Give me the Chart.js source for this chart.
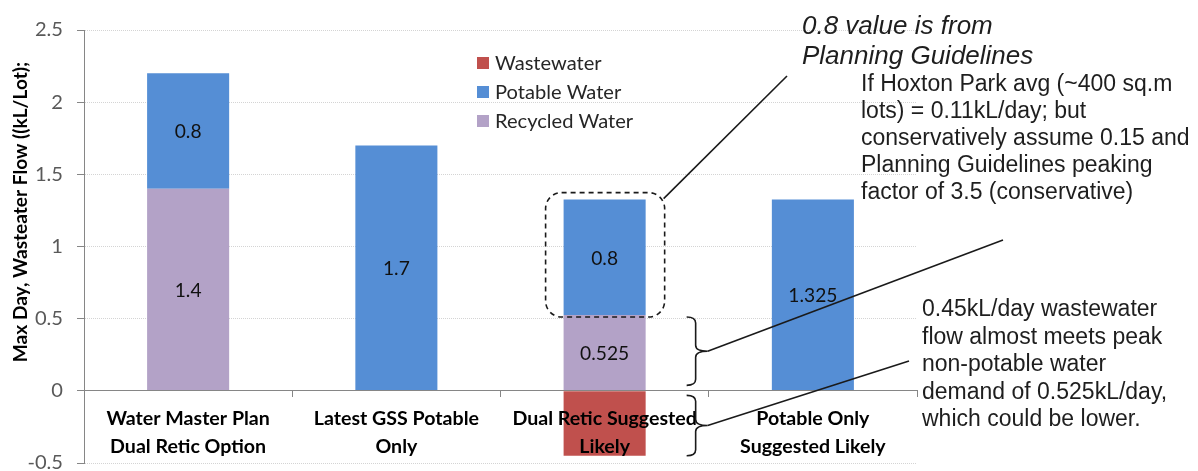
<!DOCTYPE html>
<html><head><meta charset="utf-8">
<script src="https://cdn.jsdelivr.net/npm/chart.js@4.4.1/dist/chart.umd.min.js"></script>
<style>html,body{margin:0;padding:0;background:#fff;overflow:hidden}#wrap{width:1198px;height:471px}</style>
</head><body><div id="wrap"><canvas id="c" width="1198" height="471"></canvas></div>
<script>
// ---- data ----
const categories = [["Water Master Plan","Dual Retic Option"],["Latest GSS Potable","Only"],["Dual Retic Suggested","Likely"],["Potable Only","Suggested Likely"]];
const recycledWater = [1.4, null, 0.525, null];
const potableWater  = [0.8, 1.7, 0.8, 1.325];
const wastewater    = [null, null, -0.45, null];
const yTicks      = [-0.5, 0, 0.5, 1, 1.5, 2, 2.5];
const yTickLabels = ["-0.5","0","0.5","1","1.5","2","2.5"];
const legendOrder = ["Wastewater","Potable Water","Recycled Water"];
const yTitle = "Max Day, Wasteater Flow ((kL/Lot);";
const note1 = ["0.8 value is from","Planning Guidelines"];
const note2 = ["If Hoxton Park avg (~400 sq.m","lots) = 0.11kL/day; but","conservatively assume 0.15 and","Planning Guidelines peaking","factor of 3.5 (conservative)"];
const note3 = ["0.45kL/day wastewater","flow almost meets peak","non-potable water","demand of 0.525kL/day,","which could be lower."];

// ---- font fitting (Calibri substitute) ----
const CAL = "Lato, 'Open Sans', sans-serif";
const ARIAL = "'Liberation Sans', Arial, sans-serif";
const mctx = document.createElement('canvas').getContext('2d');
function fit(text, weight, family, target){ mctx.font = weight + " 100px " + family; return Math.round(1000*target/mctx.measureText(text).width)/10; }
const catSize = fit("Dual Retic Suggested","bold",CAL,185);
const tickSize = fit("Recycled Water","normal",CAL,138);
const valSize = fit("0.525","normal",CAL,49);
const titleSize = fit(yTitle,"bold",CAL,300);

function brace(ctx, xL, xV, xT, top, bot){
  const mid = (top+bot)/2, r = 6;
  ctx.beginPath();
  ctx.moveTo(xL, top);
  ctx.quadraticCurveTo(xV, top, xV, top+r);
  ctx.lineTo(xV, mid-r);
  ctx.quadraticCurveTo(xV, mid, xT, mid);
  ctx.quadraticCurveTo(xV, mid, xV, mid+r);
  ctx.lineTo(xV, bot-r);
  ctx.quadraticCurveTo(xV, bot, xL, bot);
  ctx.stroke();
  return mid;
}
function textBlock(ctx, lines, x, y0, step, font){
  ctx.font = font; ctx.textAlign='left'; ctx.textBaseline='alphabetic'; ctx.fillStyle='#1e1e1e';
  lines.forEach((t,i)=>ctx.fillText(t, x, y0 + i*step));
}

const annot = {
  id:'annot',
  afterDatasetsDraw(chart){
    const ctx = chart.ctx;
    ctx.save();
    ctx.font = valSize + "px " + CAL; ctx.fillStyle='#111'; ctx.textAlign='center'; ctx.textBaseline='middle';
    [1,2].forEach(di=>{
      const meta = chart.getDatasetMeta(di);
      meta.data.forEach((el,i)=>{
        const v = chart.data.datasets[di].data[i];
        if (v===null || v===undefined) return;
        ctx.fillText(String(v), el.x, (el.y+el.base)/2 + 1);
      });
    });
    ctx.restore();
  },
  afterDraw(chart){
    const ctx = chart.ctx;
    ctx.save();
    // y title
    ctx.save();
    ctx.translate(21, 212); ctx.rotate(-Math.PI/2);
    ctx.font = "bold " + titleSize + "px " + CAL; ctx.fillStyle='#000'; ctx.textAlign='center'; ctx.textBaseline='middle';
    ctx.fillText(yTitle, 0, 0);
    ctx.restore();
    // legend
    const ds = chart.data.datasets;
    legendOrder.forEach((name,i)=>{
      const d = ds.find(x=>x.label===name);
      const cy = 63 + i*29;
      ctx.fillStyle = d.backgroundColor; ctx.fillRect(477, cy-6, 12, 12);
      ctx.fillStyle = '#262626'; ctx.font = tickSize + "px " + CAL; ctx.textAlign='left'; ctx.textBaseline='middle';
      ctx.fillText(name, 495, cy+1);
    });
    // dashed box around potable segment of bar 3
    const pot = chart.getDatasetMeta(2).data[2];
    const rec = chart.getDatasetMeta(1).data[2];
    const ww  = chart.getDatasetMeta(0).data[2];
    const bl = pot.x - pot.width/2 - 18, br = pot.x + pot.width/2 + 19, bt = pot.y - 7, bb = pot.base + 2;
    ctx.strokeStyle = '#1a1a1a'; ctx.lineWidth = 1.6; ctx.setLineDash([5,4]);
    ctx.beginPath(); ctx.roundRect(bl, bt, br-bl, bb-bt, 16); ctx.stroke();
    ctx.setLineDash([]);
    ctx.lineWidth = 1.6;
    ctx.beginPath(); ctx.moveTo(br-1, bt+6); ctx.lineTo(787, 76); ctx.stroke();
    // braces
    const xr = rec.x + rec.width/2;
    const m1 = brace(ctx, xr+41, xr+50, xr+62, rec.y+2, rec.base-5);
    const m2 = brace(ctx, xr+41, xr+50, xr+62, ww.base+4, ww.y);
    ctx.beginPath(); ctx.moveTo(xr+62, m1); ctx.lineTo(1003, 240); ctx.stroke();
    ctx.beginPath(); ctx.moveTo(xr+62, m2); ctx.lineTo(909, 361); ctx.stroke();
    // notes
    textBlock(ctx, note1, 802, 34, 30, "italic 26px " + ARIAL);
    textBlock(ctx, note2, 861, 91, 27, "23px " + ARIAL);
    textBlock(ctx, note3, 922, 316, 27.5, "23px " + ARIAL);
    ctx.restore();
  }
};

new Chart(document.getElementById('c'), {
  type:'bar',
  data:{labels:categories, datasets:[
    {label:'Wastewater', data:wastewater, backgroundColor:'#C0504D', stack:'s'},
    {label:'Recycled Water', data:recycledWater, backgroundColor:'#B3A2C7', stack:'s'},
    {label:'Potable Water', data:potableWater, backgroundColor:'#558ED5', stack:'s'}
  ]},
  options:{
    responsive:false, animation:false, devicePixelRatio:1,
    layout:{padding:{left:0, top:30, right:281, bottom:8}},
    datasets:{bar:{categoryPercentage:1, barPercentage:0.394}},
    plugins:{legend:{display:false}, tooltip:{enabled:false}},
    scales:{
      x:{stacked:true, position:{y:0}, offset:true,
        grid:{display:true, drawOnChartArea:false, drawTicks:true, tickLength:6, offset:true, color:'#868686', tickColor:'#868686', z:1},
        border:{display:true, color:'#868686', width:1, z:1},
        ticks:{color:'#000', padding:8, maxRotation:0, autoSkip:false, z:1,
          font:{family:CAL, size:catSize, weight:'bold', lineHeight: 28/catSize}}},
      y:{stacked:true, min:-0.5, max:2.5,
        afterBuildTicks: s => { s.ticks = yTicks.map(v=>({value:v})); },
        afterFit: s => { s.width = 84; s.paddingTop = 0; s.paddingBottom = 0; },
        grid:{color: c => (c.tick && c.tick.value===0) ? 'rgba(0,0,0,0)' : '#d4d4d4', tickColor:'#868686', tickLength:7, drawTicks:true, tickBorderDash:[]},
        border:{display:true, color:'#868686', width:1, dash:[1,1]},
        ticks:{color:'#595959', padding:14, font:{family:CAL, size:tickSize},
          callback:(v,i)=> yTickLabels[yTicks.indexOf(v)] }}
    }
  },
  plugins:[annot]
});
</script></body></html>
